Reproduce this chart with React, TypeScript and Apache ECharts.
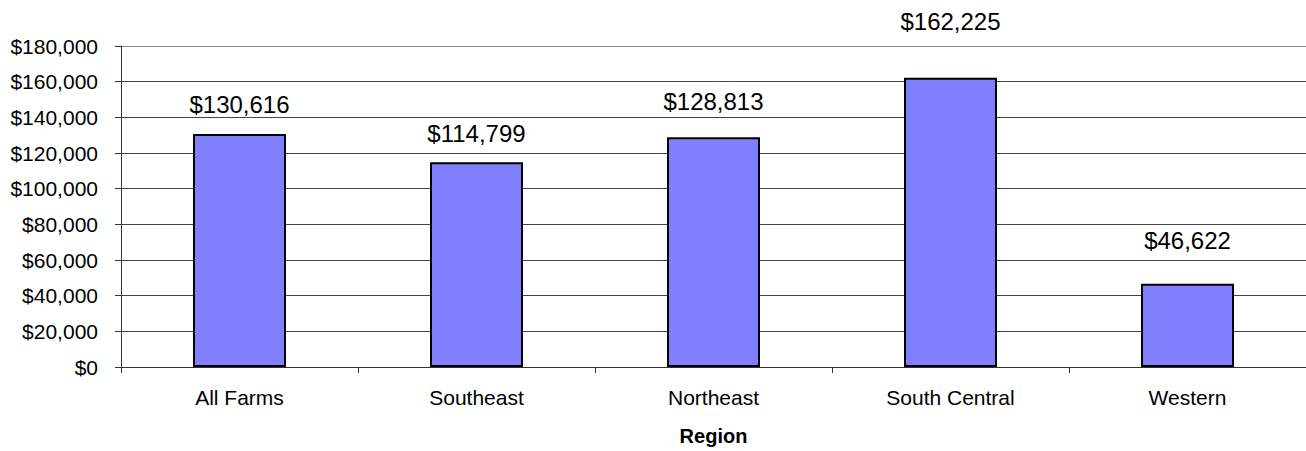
import React, { useEffect, useRef } from "react";
import * as echarts from "echarts";

const categories = ["All Farms", "Southeast", "Northeast", "South Central", "Western"];
const values = [130616, 114799, 128813, 162225, 46622];
const labelShift = [0, 1, -5.5, -26, -13.5];
const axisName = "Region";

const fmt = (v: number) => "$" + Math.round(v).toLocaleString("en-US");
const FONT = "'Liberation Sans', Arial, sans-serif";

export default function App() {
  const ref = useRef<HTMLDivElement>(null);
  useEffect(() => {
    if (!ref.current) return;
    const chart = echarts.init(ref.current, null, { renderer: "svg" });
    const gridColors = ["#444", "#444", "#444", "#444", "#444", "#444", "#444", "#444", "#444", "#8c8c8c"];
    chart.setOption({
      animation: false,
      textStyle: { fontFamily: FONT, color: "#000" },
      grid: { left: 121, right: 0, top: 46, bottom: 80 },
      xAxis: {
        type: "category",
        data: categories,
        name: axisName,
        nameLocation: "middle",
        nameGap: 59,
        nameTextStyle: { fontFamily: FONT, fontSize: 20, fontWeight: "bold", color: "#000" },
        axisLine: { lineStyle: { color: "#333", width: 1 } },
        axisTick: { show: true, length: 6, lineStyle: { color: "#333" } },
        axisLabel: { margin: 20, fontFamily: FONT, fontSize: 21, color: "#000" },
      },
      yAxis: {
        type: "value",
        min: 0,
        max: 180000,
        interval: 20000,
        axisLine: { show: true, lineStyle: { color: "#333", width: 1 } },
        axisTick: { show: true, length: 6, lineStyle: { color: "#333" } },
        axisLabel: { margin: 23, fontFamily: FONT, fontSize: 21, color: "#000", formatter: (v: number) => fmt(v) },
        splitLine: { show: true, lineStyle: { color: gridColors, width: 1 } },
      },
      series: [
        {
          type: "bar",
          barWidth: 93,
          data: values.map((v, i) => ({
            value: v,
            label: { offset: [0, labelShift[i]] },
          })),
          itemStyle: { color: "#8080ff", borderColor: "#000", borderWidth: 2 },
          label: {
            show: true,
            position: "top",
            distance: 18,
            fontFamily: FONT,
            fontSize: 24,
            color: "#000",
            formatter: (p: any) => fmt(p.value),
          },
        },
      ],
    });
    return () => chart.dispose();
  }, []);
  return <div ref={ref} style={{ position: "absolute", left: 0, top: 0, width: 1306, height: 451 }} />;
}
